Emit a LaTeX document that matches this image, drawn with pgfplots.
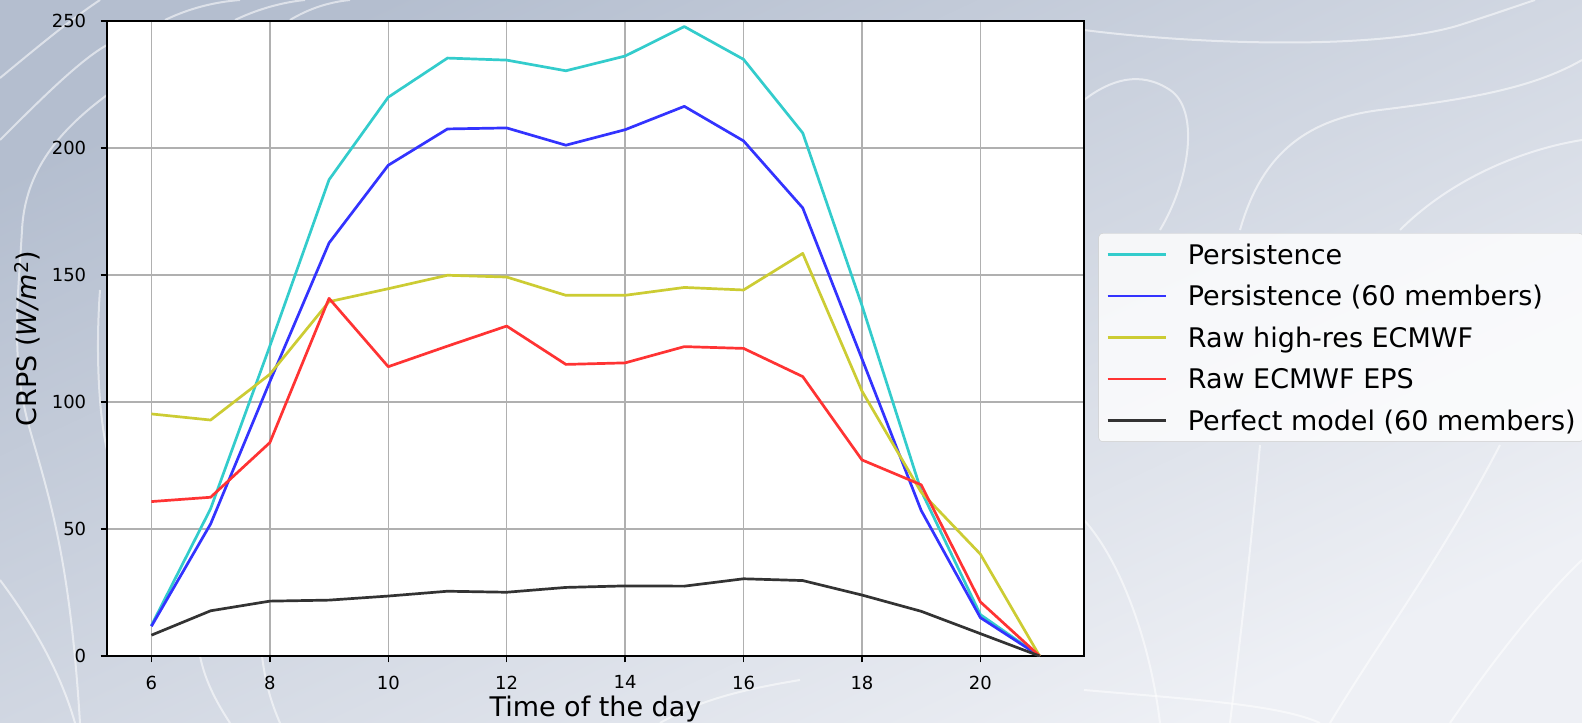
\documentclass[border=0pt]{standalone}
\usepackage{pgfplots}
\pgfplotsset{compat=1.18}
\usepackage{fontspec}
\setmainfont{DejaVu Sans}
\definecolor{cC}{rgb}{0.2,0.8,0.8}
\definecolor{cB}{rgb}{0.2,0.2,1}
\definecolor{cY}{rgb}{0.8,0.8,0.2}
\definecolor{cR}{rgb}{1,0.2,0.2}
\definecolor{cK}{rgb}{0.2,0.2,0.2}
\definecolor{bgA}{RGB}{180,190,207}
\definecolor{bgB}{RGB}{238,240,245}
\definecolor{gridc}{RGB}{176,176,176}
\begin{document}
\begin{tikzpicture}
\path[use as bounding box] (-107bp,-67bp) rectangle (1475bp,656bp);
\clip (-107bp,-67bp) rectangle (1475bp,656bp);
\shade[top color=bgA, bottom color=bgB, shading angle=25] (-107bp,-67bp) rectangle (1475bp,656bp);
\begin{scope}[shift={(-107bp,656bp)}, x=1bp, y=-1bp, white, opacity=0.55, line width=2bp]
\draw (0,78) .. controls (40,45) and (70,20) .. (100,0);
\draw (0,140) .. controls (40,100) and (80,60) .. (107,45);
\draw (107,95) .. controls (60,130) and (25,170) .. (22,230) .. controls (18,300) and (10,360) .. (30,430) .. controls (50,500) and (70,560) .. (80,723);
\draw (0,580) .. controls (30,620) and (60,670) .. (75,723);
\draw (100,290) .. controls (95,360) and (100,420) .. (107,450);
\draw (165,20) .. controls (190,8) and (215,2) .. (240,0);
\draw (235,20) .. controls (260,8) and (285,2) .. (305,0);
\draw (290,20) .. controls (310,8) and (330,2) .. (350,0);
\draw (1084,30) .. controls (1200,45) and (1380,50) .. (1460,25) .. controls (1500,12) and (1520,5) .. (1535,0);
\draw (1084,100) .. controls (1110,80) and (1140,70) .. (1170,90) .. controls (1200,110) and (1190,180) .. (1160,230);
\draw (1240,230) .. controls (1260,160) and (1300,120) .. (1380,110) .. controls (1460,100) and (1530,90) .. (1582,60);
\draw (1400,230) .. controls (1450,180) and (1520,150) .. (1582,140);
\draw (1084,520) .. controls (1120,560) and (1150,640) .. (1160,723);
\draw (1230,723) .. controls (1240,640) and (1250,560) .. (1260,445);
\draw (1330,723) .. controls (1380,640) and (1440,560) .. (1500,445);
\draw (1450,723) .. controls (1500,650) and (1550,590) .. (1582,560);
\draw (1084,690) .. controls (1200,700) and (1280,705) .. (1320,723);
\draw (660,723) .. controls (700,700) and (740,690) .. (800,680);
\draw (230,723) .. controls (215,700) and (205,680) .. (200,656);
\draw (280,723) .. controls (270,700) and (265,680) .. (262,656);
\end{scope}
\begin{axis}[
  width=977bp, height=635bp, scale only axis,
  xmin=5.25, xmax=21.75, ymin=0, ymax=250,
  xtick={6,8,...,20}, ytick={0,50,...,250},
  xtick pos=bottom, ytick pos=left,
  grid=major, major grid style={gridc, line width=1.4bp},
  axis line style={line width=1.4bp, black},
  tick style={line width=1.4bp, black}, tick align=outside, major tick length=6.3bp,
  axis background/.style={fill=white},
  /pgf/number format/assume math mode=true,
  ticklabel style={font=\fontsize{18bp}{21bp}\selectfont, inner sep=0pt},
  xticklabel style={anchor=north, yshift=-13.3bp},
  yticklabel style={anchor=east, xshift=-14.3bp},
  xlabel={Time of the day},
  xlabel style={font=\fontsize{27bp}{32bp}\selectfont, at={([yshift=-60bp]axis description cs:0.5,0)}, anchor=base},
  ylabel={CRPS (\textit{W/m}\textsuperscript{2})},
  ylabel style={font=\fontsize{27bp}{32bp}\selectfont, at={([xshift=-70bp]axis description cs:0,0.5)}, anchor=base, rotate=0},
  legend cell align=left,
  legend image code/.code={\draw[#1, line width=2.7bp] (0bp,0bp) -- (58bp,0bp);},
  legend style={at={(axis description cs:1.0148,0.666)}, anchor=north west,
    fill=white, fill opacity=0.8, text opacity=1, draw=black!20, rounded corners=4bp,
    inner xsep=7.5bp, inner ysep=3.8bp, row sep=7.2bp,
    font=\fontsize{27bp}{32bp}\selectfont,
    nodes={inner sep=0pt, text height=27bp, text depth=7.4bp},
    /tikz/every odd column/.append style={column sep=21bp},
    /tikz/every even column/.append style={column sep=30bp}},
  every axis plot/.append style={line width=2.7bp, line join=round},
]
\addplot[cC] coordinates {(6,12) (7,58) (8,122) (9,187.5) (10,220) (11,235.4) (12,234.6) (13,230.4) (14,236.2) (15,247.8) (16,234.9) (17,205.9) (18,138) (19,65) (20,16.3) (21,0)};
\addlegendentry{Persistence}
\addplot[cB] coordinates {(6,11.7) (7,52) (8,108) (9,162.6) (10,193.2) (11,207.5) (12,207.9) (13,201.1) (14,207.2) (15,216.4) (16,202.8) (17,176.4) (18,117) (19,57.3) (20,15.1) (21,0)};
\addlegendentry{Persistence (60 members)}
\addplot[cY] coordinates {(6,95.3) (7,92.9) (8,110.9) (9,139.5) (10,144.6) (11,149.9) (12,149.2) (13,142) (14,142) (15,145.1) (16,144.1) (17,158.5) (18,104.3) (19,64.5) (20,40.1) (21,0)};
\addlegendentry{Raw high-res ECMWF}
\addplot[cR] coordinates {(6,60.8) (7,62.5) (8,84) (9,140.8) (10,113.9) (11,122) (12,129.9) (13,114.8) (14,115.4) (15,121.8) (16,121.1) (17,110) (18,77.2) (19,67.4) (20,21.3) (21,0)};
\addlegendentry{Raw ECMWF EPS}
\addplot[cK] coordinates {(6,8.2) (7,17.8) (8,21.6) (9,22) (10,23.6) (11,25.5) (12,25.1) (13,27) (14,27.6) (15,27.5) (16,30.4) (17,29.7) (18,24) (19,17.6) (20,8.8) (21,0)};
\addlegendentry{Perfect model (60 members)}
\end{axis}
\end{tikzpicture}
\end{document}
